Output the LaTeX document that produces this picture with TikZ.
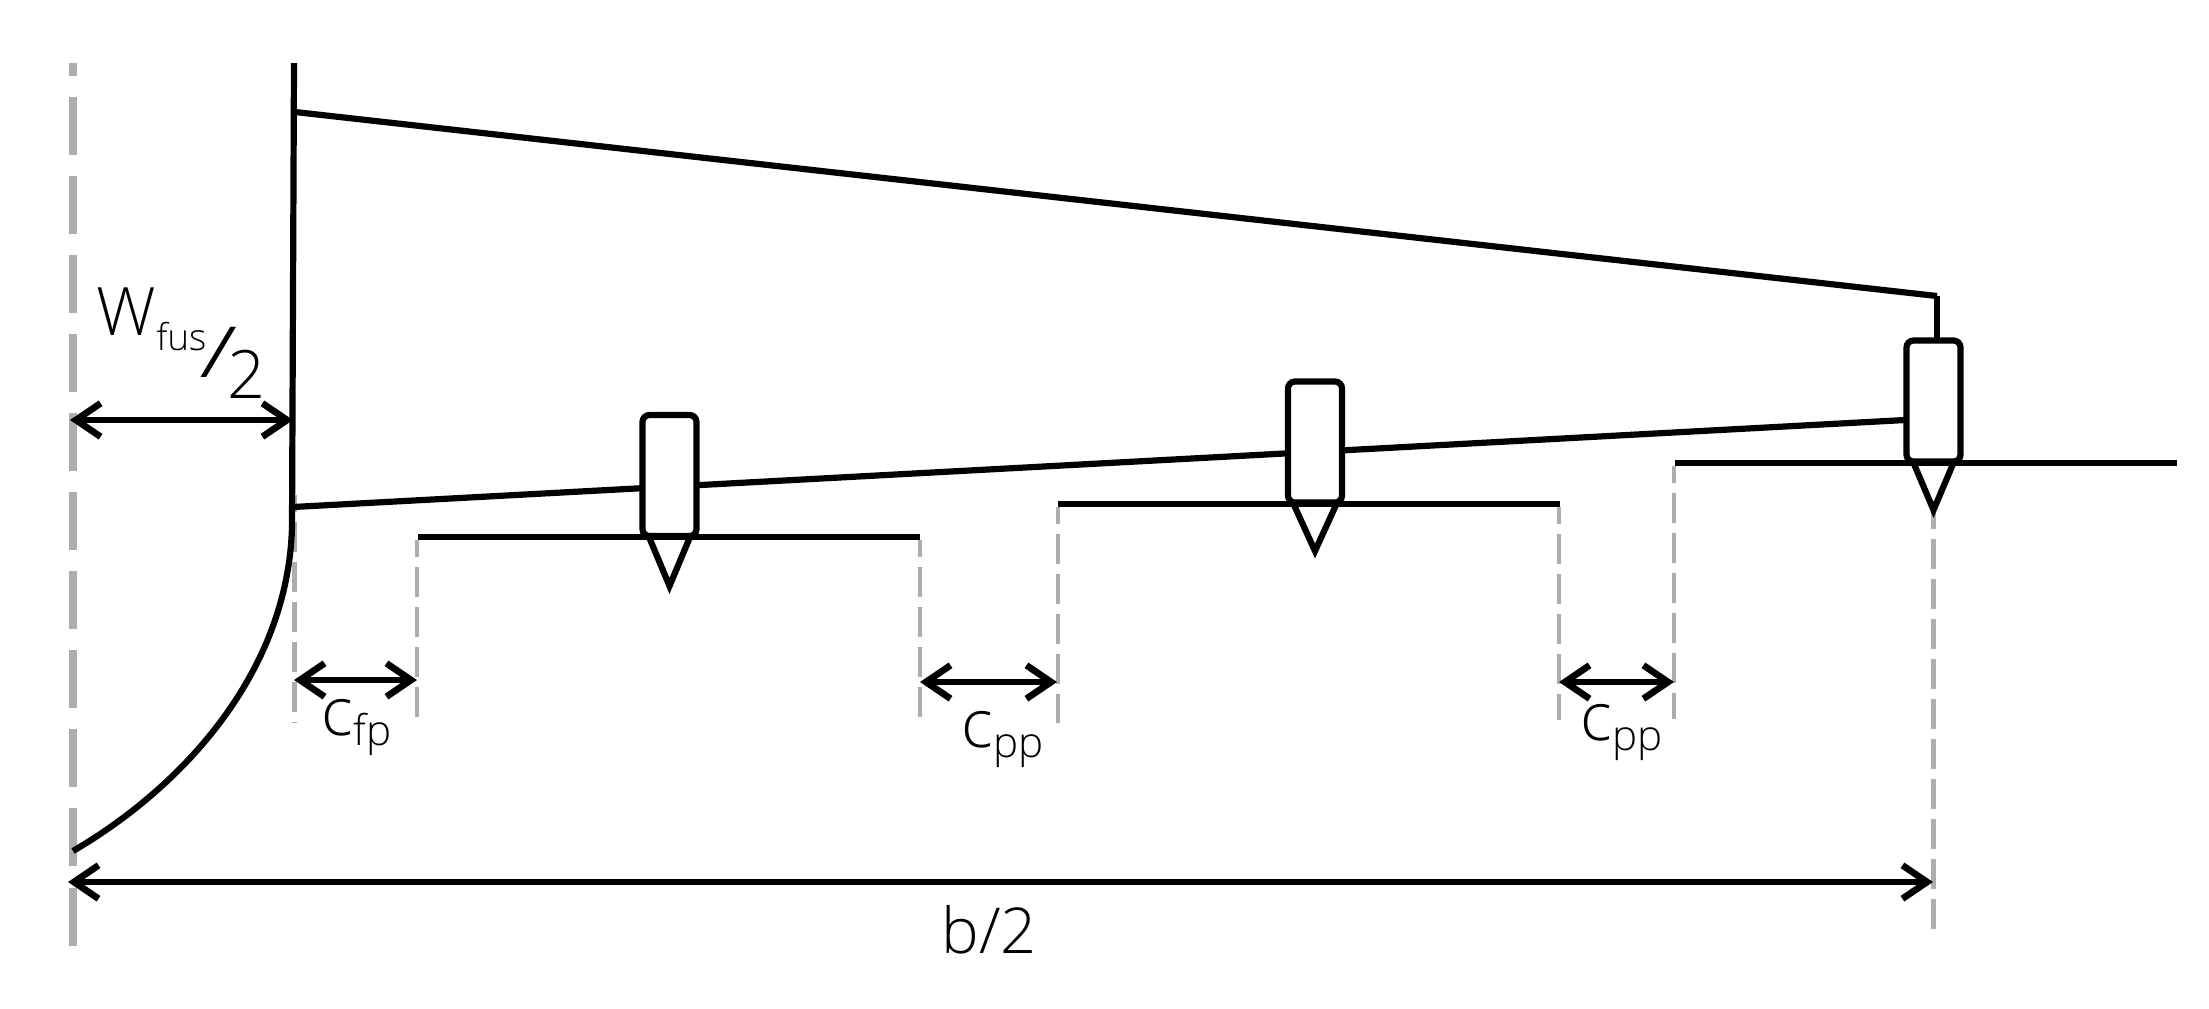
\documentclass[tikz,border=0pt]{standalone}
\usepackage{fontspec}
\usepackage{graphicx}
\usepackage{xcolor}
\usepackage{tikz}
\usetikzlibrary{arrows.meta}
\setmainfont{Open Sans}[UprightFont=* Light]
\definecolor{dimgrey}{RGB}{176,172,172}
\newcommand{\lowsub}[3]{\raisebox{#1}{\fontsize{#2}{12}\selectfont #3}}
\tikzset{
  outline/.style={line width=0.062cm,line join=miter,black},
  axis/.style={line width=0.07cm,dimgrey,dash pattern=on 0.58cm off 0.21cm,dash phase=0.45cm},
  guide/.style={line width=0.045cm,dimgrey,dash pattern=on 0.3cm off 0.1cm,dash phase=0.13cm},
  dimline/.style={line width=0.06cm,{Straight Barb[length=7pt,width=9.5pt,line width=1.9pt]}-{Straight Barb[length=7pt,width=9.5pt,line width=1.9pt]}},
  pod/.style={draw,fill=white,line width=0.062cm,rounded corners=2pt,minimum width=0.54cm,minimum height=1.21cm,inner sep=0pt,outer sep=0pt},
  dimtext/.style={anchor=base west,inner sep=0pt,font=\fontsize{19}{20}\selectfont}
}
\begin{document}
\begin{tikzpicture}[x=0.01cm,y=-0.01cm]
\useasboundingbox (0,0) rectangle (2209,1008);
\coordinate (axistop) at (73,63);
\coordinate (axisbot) at (73,949);
\coordinate (fustop) at (294,63);
\coordinate (fusbot) at (292,527);
\coordinate (fusnose) at (73,851);
\coordinate (rootle) at (295,112);
\coordinate (tiple) at (1937,296);
\coordinate (rootte) at (293,507);
\coordinate (tipte) at (1905,420);
\coordinate (fusdim) at (70,420);
\coordinate (fusdimb) at (293,420);
\coordinate (spanl) at (68,882);
\coordinate (spanr) at (1933,882);
\coordinate (sec1l) at (418,537);
\coordinate (sec1r) at (920,537);
\coordinate (sec2l) at (1058,504);
\coordinate (sec2r) at (1560,504);
\coordinate (sec3l) at (1675,463);
\coordinate (sec3r) at (2177,463);
\coordinate (tip1) at (669.5,586);
\coordinate (tip2) at (1315,551);
\coordinate (tip3) at (1933.5,510);
% grey guides
\draw[axis] (axistop) -- (axisbot);
\draw[guide] (294.5,495) -- (294.5,723);
\draw[guide] (417,540) -- (417,723);
\draw[guide] (920,540) -- (920,723);
\draw[guide] (1058,507) -- (1058,723);
\draw[guide] (1559,507) -- (1559,720);
\draw[guide] (1674,466) -- (1674,719);
\draw[guide] (1933.5,512) -- (1933.5,930);
% fuselage and wing
\draw[outline] (fustop) -- (fusbot);
\draw[outline] (fusbot) .. controls (288,670) and (186,785) .. (fusnose);
\draw[outline] (rootle) -- (tiple);
\draw[outline] (rootte) -- (tipte);
\draw[outline] (tiple) -- (1937,340);
% propeller sections
\draw[outline] (sec1l) -- (sec1r);
\draw[outline] (sec2l) -- (sec2r);
\draw[outline] (sec3l) -- (sec3r);
% nacelles
\node (pod1) at (669.5,475.5) [pod] {};
\node (pod2) at (1315,442) [pod] {};
\node (pod3) at (1933.5,401) [pod] {};
\draw[outline] (649,537) -- (tip1) -- (690,537);
\draw[outline] (1294,505) -- (tip2) -- (1336,505);
\draw[outline] (1914,464) -- (tip3) -- (1953,464);
% dimensions
\draw[dimline] (fusdim) -- (fusdimb);
\draw[dimline] (294,680) -- (417,680);
\draw[dimline] (920,682) -- (1057,682);
\draw[dimline] (1559,682) -- (1674,682);
\draw[dimline] (spanl) -- (spanr);
\node (wfus) at (96,335) [dimtext] {W\lowsub{-4.3pt}{10.5}{fus}\kern-2pt\raisebox{-12pt}{\scalebox{1.6}[1]{\fontsize{20}{20}\selectfont /}}\kern-3pt\raisebox{-18pt}{2}};
\node (cfp) at (321,735) [dimtext] {c\lowsub{-3pt}{12}{fp}};
\node (cpp1) at (961,747) [dimtext] {c\lowsub{-3pt}{12}{pp}};
\node (cpp2) at (1580,740) [dimtext] {c\lowsub{-3pt}{12}{pp}};
\node (span) at (941,953) [dimtext,font=\fontsize{18}{20}\selectfont] {b/2};
\end{tikzpicture}
\end{document}
